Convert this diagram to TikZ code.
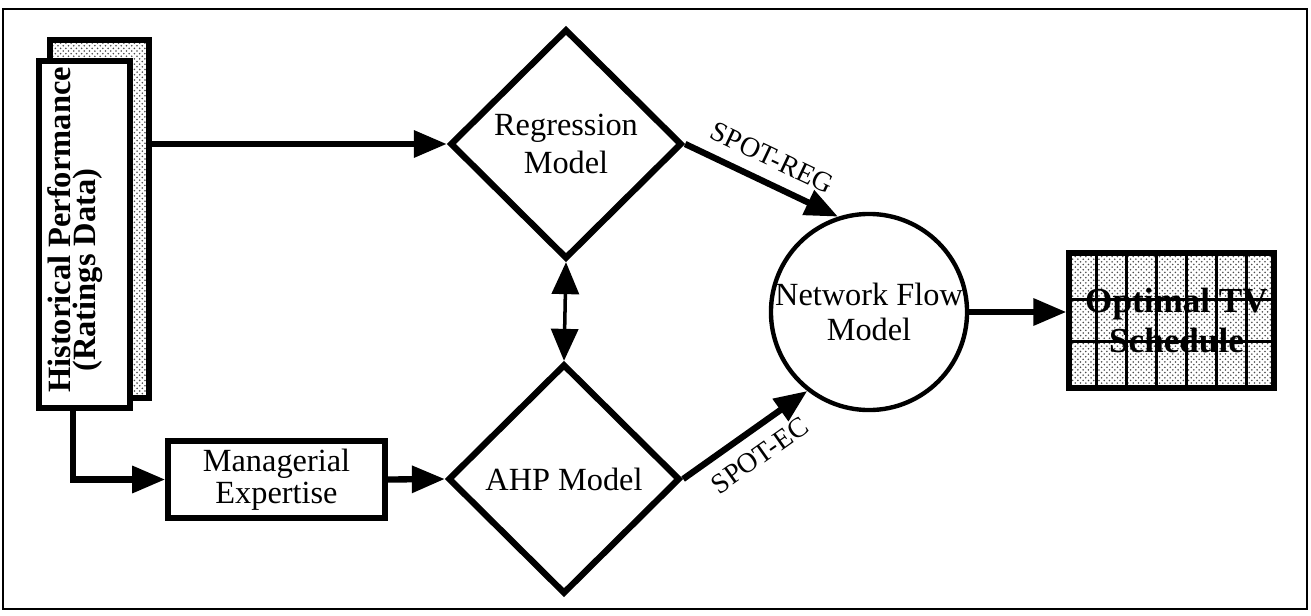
\documentclass[tikz,border=0pt]{standalone}
\usepackage{fontspec}
\setmainfont{Liberation Serif}
\usetikzlibrary{
  shapes.geometric,
  arrows.meta,
  positioning,
  calc,
  patterns
}
\tikzset{
blocktext/.style={
  align=center,
  font=\fontsize{18.4}{22}\selectfont,
  text=black
},
histshadow/.style={
  draw,
  line width=3pt,
  pattern=crosshatch dots,
  pattern color=black!70,
  minimum width=1.98cm,
  minimum height=7.16cm,
  inner sep=0pt
},
histblock/.style={
  draw,
  line width=3.4pt,
  fill=white,
  minimum width=1.82cm,
  minimum height=6.94cm,
  inner sep=0pt
},
histtext/.style={
  align=center,
  font=\fontsize{18.5}{14}\selectfont\bfseries,
  rotate=90,
  inner sep=0pt
},
modelblock/.style={
  diamond,
  draw,
  line width=3.6pt,
  minimum width=4.64cm,
  minimum height=4.6cm,
  inner sep=0pt,
  blocktext
},
expertblock/.style={
  draw,
  line width=3.2pt,
  minimum width=4.34cm,
  minimum height=1.54cm,
  inner sep=0pt,
  blocktext,
  font=\fontsize{18.4}{18.5}\selectfont
},
flowblock/.style={
  circle,
  draw,
  line width=2.5pt,
  minimum size=3.84cm,
  inner sep=0pt,
  blocktext,
  font=\fontsize{18.4}{20}\selectfont
},
scheduleblock/.style={
  draw,
  line width=3pt,
  pattern=crosshatch dots,
  pattern color=black!70,
  minimum width=4.1cm,
  minimum height=2.7cm,
  inner sep=0pt
},
schedtext/.style={
  align=center,
  font=\fontsize{20}{23}\selectfont\bfseries,
  inner sep=0pt
},
gridline/.style={
  draw=black,
  line width=2pt
},
flowlabel/.style={
  font=\fontsize{16}{18}\selectfont,
  sloped,
  inner sep=7pt
},
frameline/.style={
  draw=black,
  line width=1.5pt
},
arrow/.style={
  -{Triangle[length=0.66cm,width=0.52cm]},
  line width=3.6pt,
  draw=black
},
twowayarrow/.style={
  {Triangle[length=0.64cm,width=0.54cm]}-{Triangle[length=0.64cm,width=0.54cm]},
  line width=2pt,
  draw=black
}
}

\begin{document}
\begin{tikzpicture}[x=0.02cm, y=-0.02cm]
  \useasboundingbox (0,0) rectangle (1311,615);
  % Outer frame
  \draw[frameline] (3,9) rectangle (1307,609);

  % Ratings data (stacked sheets)
  \node[histshadow] (histback) at (99.5,219) {};
  \node[histblock] (hist) at (84.5,234.5) {};
  \node[histtext] (histlabel) at (75,230) {Historical Performance\\(Ratings Data)\hspace*{1.6cm}};

  % Models
  \node[modelblock] (reg) at (566,144) {Regression\\Model};
  \node[modelblock] (ahp) at (564,479) {AHP Model};
  \node[expertblock] (mgr) at (276.5,479.5) {Managerial\\Expertise};
  \node[flowblock] (nfm) at (869,312) {Network Flow\\Model};

  % Schedule grid
  \node[scheduleblock] (sched) at (1171.5,320.5) {};
  \foreach \k in {1,...,6} {
    \draw[gridline] ($(sched.north west)!{\k/7}!(sched.north east)$) -- ($(sched.south west)!{\k/7}!(sched.south east)$);
  }
  \foreach \f in {0.35,0.65} {
    \draw[gridline, line width=1.5pt] ($(sched.north west)!\f!(sched.south west)$) -- ($(sched.north east)!\f!(sched.south east)$);
  }
  \node[schedtext] (schedlabel) at ([xshift=0.1cm]sched.center) {Optimal TV\\Schedule};

  % Connectors
  \draw[arrow] (reg.west -| histback.east) -- (reg.west);
  \draw[arrow] ([xshift=-0.23cm]hist.south) |- (mgr.west);
  \draw[arrow] (mgr.east) -- (ahp.west);
  \draw[twowayarrow] (reg.south) -- (ahp.north);
  \draw[arrow] (reg.east) -- node[flowlabel, above] (spotreg) {SPOT-REG} (nfm.108);
  \draw[arrow] (ahp.east) -- node[flowlabel, below] (spotec) {SPOT-EC} (nfm.232);
  \draw[arrow] (nfm.east) -- (nfm.east -| sched.west);
\end{tikzpicture}
\end{document}
